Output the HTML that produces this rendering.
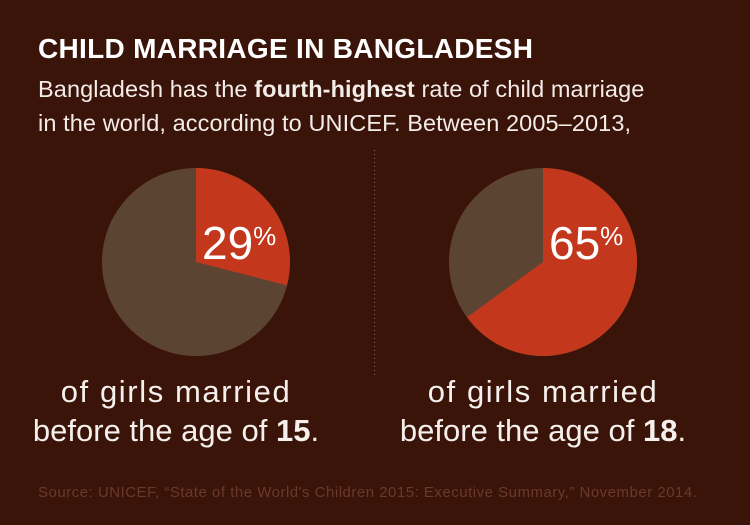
<!DOCTYPE html>
<html><head><meta charset="utf-8"><style>
body{margin:0;width:750px;height:525px;background:#3a1309;overflow:hidden;font-family:"Liberation Sans",sans-serif;color:#fff;position:relative}
.t{position:absolute;left:38px;top:33px;font-size:28px;font-weight:bold;letter-spacing:0.3px}
.s{position:absolute;left:38px;top:72px;font-size:23.5px;line-height:34px;color:#f3ece8;letter-spacing:0.1px}
.cap{position:absolute;width:320px;text-align:center;font-size:31px;line-height:39px;color:#f6f0ec}
.cap span{letter-spacing:1.6px}
.src{position:absolute;left:38px;top:484px;font-size:15px;letter-spacing:0.5px;color:#6b3a2a;white-space:nowrap}
.pct{position:absolute;font-size:46px;color:#fff}
.pct sup{font-size:26px;vertical-align:14px}
</style></head><body>
<div class="t">CHILD MARRIAGE IN BANGLADESH</div>
<div class="s">Bangladesh has the <b>fourth-highest</b> rate of child marriage<br>in the world, according to UNICEF. Between 2005–2013,</div>
<svg width="750" height="525" style="position:absolute;left:0;top:0">
<circle cx="196" cy="262" r="94" fill="#5c4433"/>
<path d="M196 262 L196 168 A94 94 0 0 1 287 285.4 Z" fill="#c3381c"/>
<circle cx="543" cy="262" r="94" fill="#5c4433"/>
<path d="M543 262 L543 168 A94 94 0 1 1 467 317.3 Z" fill="#c3381c"/>
<line x1="374.5" y1="150" x2="374.5" y2="378" stroke="#8a6a5e" stroke-width="1" stroke-dasharray="1 3"/>
</svg>
<div class="pct" style="left:202px;top:216px">29<sup>%</sup></div>
<div class="pct" style="left:549px;top:216px">65<sup>%</sup></div>
<div class="cap" style="left:16px;top:372px"><span>of girls married</span><br>before the age of <b>15</b>.</div>
<div class="cap" style="left:383px;top:372px"><span>of girls married</span><br>before the age of <b>18</b>.</div>
<div class="src">Source: UNICEF, “State of the World's Children 2015: Executive Summary,” November 2014.</div>
</body></html>
